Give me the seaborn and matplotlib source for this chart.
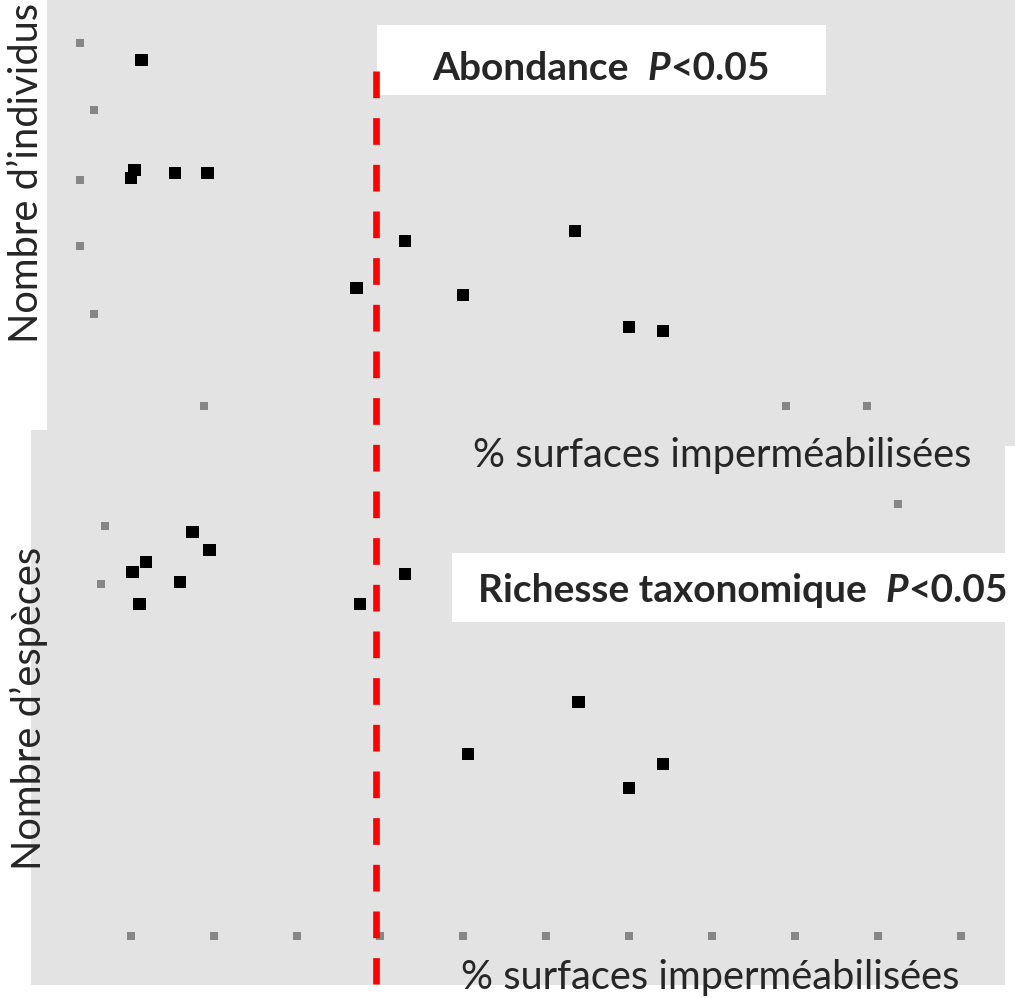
"""Abondance et richesse taxonomique vs % surfaces imperméabilisées."""

import matplotlib
matplotlib.use("Agg")
import matplotlib.pyplot as plt
import seaborn as sns
import pandas as pd
from matplotlib.patches import Rectangle
from matplotlib.lines import Line2D
from matplotlib.text import Annotation
from matplotlib.transforms import blended_transform_factory


# --- data -------------------------------------------------------------
# % surfaces imperméabilisées (x) / nombre d'individus (y)
abond_x = [1.3, 0.4, 0.0, 5.3, 9.2, 27.2, 33.0, 53.5, 40.0, 60.0, 64.1]
abond_y = [259.5, 177.0, 171.0, 174.8, 174.8, 88.5, 123.8, 131.3, 83.3, 59.3, 56.3]

# % surfaces imperméabilisées (x) / nombre d'espèces (y)
rich_x = [7.4, 9.5, 1.8, 0.2, 5.9, 1.0, 27.6, 33.0, 53.9, 40.6, 64.1, 60.0]
rich_y = [20.2, 19.3, 18.7, 18.2, 17.7, 16.6, 16.6, 18.1, 11.7, 9.1, 8.6, 7.4]

# leftover (unreadable) tick label fragments
abond_tick_x = [-6.1, -4.5, -6.1, -6.1, -4.5, 8.8, 78.9, 88.7]
abond_tick_y = [272.3, 222.0, 169.5, 120.0, 69.0, 0.0, 0.0, 0.0]
rich_tick_x = [-3.1, -3.6, 92.4, 0, 10, 20, 30, 40, 50, 60, 70, 80, 90, 100]
rich_tick_y = [20.5, 17.6, 21.6, 0, 0, 0, 0, 0, 0, 0, 0, 0, 0, 0]

threshold = 29.5  # % surfaces imperméabilisées

x_label = "% surfaces imperméabilisées"
abond_label = "Nombre d\u2019individus"
rich_label = "Nombre d\u2019espèces"
abond_title = "Abondance"
rich_title = "Richesse taxonomique"

# --- style ------------------------------------------------------------
sns.set_style("white")
plt.rcParams['font.family'] = ['Lato', 'DejaVu Sans']
BG = '#e3e3e3'
TITLE_FS = 28
LABEL_FS = 28.7

W, H = 1015, 998
fig = plt.figure(figsize=(W / 100, H / 100), dpi=100)


def box(px_left, px_top, px_right, px_bottom):
    """pixel box -> figure fraction [l, b, w, h]"""
    return [px_left / W, 1 - px_bottom / H,
            (px_right - px_left) / W, (px_bottom - px_top) / H]


ax_top = fig.add_axes(box(47, 0, 1015, 446))
ax_bot = fig.add_axes(box(31, 430, 1005, 985))
ax_top.set_zorder(1)
ax_bot.set_zorder(2)

df_abond = pd.DataFrame({'x': abond_x, 'y': abond_y})
df_rich = pd.DataFrame({'x': rich_x, 'y': rich_y})

for ax, df, tx, ty, xlim, ylim in [
        (ax_top, df_abond, abond_tick_x, abond_tick_y, (-10.12, 106.5), (-30.0, 304.5)),
        (ax_bot, df_rich, rich_tick_x, rich_tick_y, (-12.05, 105.3), (-2.45, 25.3))]:
    ax.set_facecolor(BG)
    ax.scatter(tx, ty, marker='s', s=40, color='#868686', linewidths=0, zorder=2)
    sns.scatterplot(data=df, x='x', y='y', ax=ax, marker='s', s=85,
                    color='black', edgecolor='none', zorder=3)
    ax.set_xlim(*xlim)
    ax.set_ylim(*ylim)
    ax.set_xticks([])
    ax.set_yticks([])
    ax.set_xlabel('')
    ax.set_ylabel('')
    for sp in ax.spines.values():
        sp.set_visible(False)

# red dashed threshold line across both panels (above the label boxes)
fig.add_artist(Line2D([threshold, threshold], [1 - 71 / H, 1 - 984 / H],
                      transform=blended_transform_factory(ax_bot.transData,
                                                          fig.transFigure),
                      color='#ff0000', linewidth=4.8, dashes=(4.0, 3.0),
                      zorder=5.5))

# stat label boxes
for px, x0, y0, name in [((377, 25, 826, 95), 432, 80, abond_title),
                         ((452, 553, 1005, 622), 478, 602, rich_title)]:
    l, b, w, h = box(*px)
    fig.patches.append(Rectangle((l, b), w, h, transform=fig.transFigure,
                                 facecolor='white', edgecolor='none', zorder=5))
    t1 = fig.text(x0 / W, 1 - y0 / H, name + "  ", fontsize=TITLE_FS,
                  fontweight='bold', ha='left', va='baseline', zorder=6)
    t2 = fig.add_artist(Annotation(
        "P", xy=(1, 0), xycoords=t1, ha='left', va='bottom', fontsize=TITLE_FS,
        fontweight='bold', style='italic', zorder=6))
    fig.add_artist(Annotation(
        "<0.05", xy=(1, 0), xycoords=t2, ha='left', va='bottom',
        fontsize=TITLE_FS, fontweight='bold', zorder=6))

# axis labels
fig.text(722 / W, 1 - 456 / H, x_label, fontsize=LABEL_FS, ha='center',
         va='center', zorder=6)
fig.text(710 / W, 1 - 978 / H, x_label, fontsize=LABEL_FS, ha='center',
         va='center', zorder=6)
fig.text(27 / W, 1 - 173 / H, abond_label, fontsize=LABEL_FS, rotation=90,
         ha='center', va='center', zorder=6)
fig.text(29 / W, 1 - 708 / H, rich_label, fontsize=LABEL_FS, rotation=90,
         ha='center', va='center', zorder=6)

fig.savefig('out.png', dpi=100)
